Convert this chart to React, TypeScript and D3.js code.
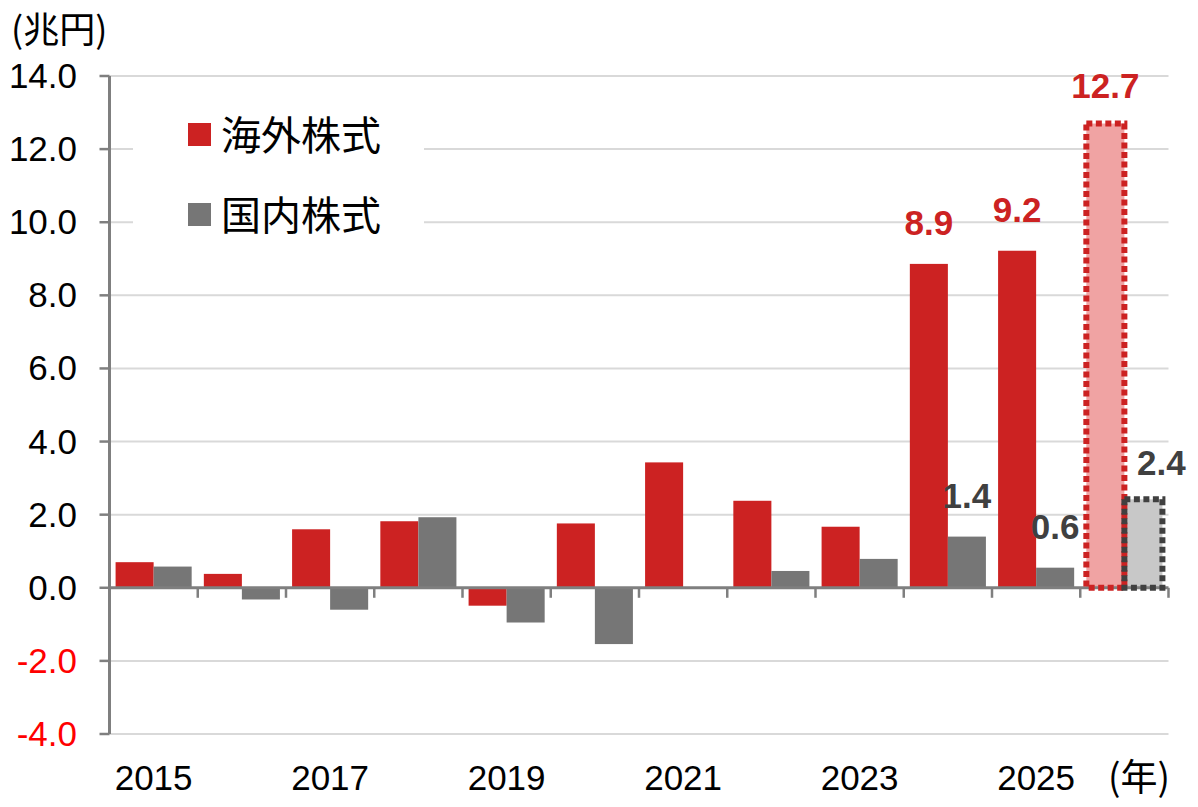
import React from 'react';
import * as d3 from 'd3';

const years = ['2015', '2016', '2017', '2018', '2019', '2020', '2021', '2022', '2023', '2024', '2025', '2026'];
const foreign = [0.7, 0.38, 1.6, 1.82, -0.49, 1.76, 3.43, 2.38, 1.67, 8.86, 9.22, 12.7];
const domestic = [0.58, -0.32, -0.6, 1.93, -0.95, -1.54, 0.0, 0.46, 0.79, 1.4, 0.55, 2.42];
const projected = [false, false, false, false, false, false, false, false, false, false, false, true];
const labelled = ['2024', '2025', '2026'];
const shownYears = ['2015', '2017', '2019', '2021', '2023', '2025'];
const yTicks = [-4, -2, 0, 2, 4, 6, 8, 10, 12, 14];
const seriesNames = ['海外株式', '国内株式'];

const RED = '#CC2222';
const GRAY = '#767676';
const RED_LIGHT = '#F0A3A3';
const GRAY_LIGHT = '#C8C8C8';
const DARK = '#404040';
const AXIS = '#7F7F7F';
const GRID = '#D9D9D9';
const NUM_FONT = '"Liberation Sans", Arial, sans-serif';
const JP_FONT = '"Noto Sans CJK JP", sans-serif';

const W = 1198;
const H = 807;
const left = 109.5;
const right = 1168.5;

export default function App() {
  const x = d3.scaleBand<string>().domain(years).range([left, right]).paddingInner(0).paddingOuter(0);
  const inner = d3.scaleBand<string>().domain(['f', 'd']).range([0, x.bandwidth()]).paddingOuter(0.16).paddingInner(0);
  const y = d3.scaleLinear().domain([-4, 14]).range([734, 76]);
  const bw = inner.bandwidth();
  const y0 = y(0);

  const rows = years.map((yr, i) => ({ yr, f: foreign[i], d: domestic[i], proj: projected[i] }));

  return (
    <div style={{ position: 'absolute', left: 0, top: 0 }}>
      <svg width={W} height={H} style={{ display: 'block', background: '#fff' }}>
        {/* gridlines */}
        {yTicks.filter(t => t !== 0).map(t => (
          <line key={'g' + t} x1={left} x2={right} y1={y(t)} y2={y(t)} stroke={GRID} strokeWidth={2} />
        ))}
        {/* legend background breaks gridlines */}
        <rect x={133} y={100} width={291} height={150} fill="#fff" />
        {seriesNames.map((name, i) => (
          <g key={name} transform={`translate(188, ${123 + i * 80})`}>
            <rect width={23} height={23} fill={i === 0 ? RED : GRAY} />
            <text x={33} y={27} fontFamily={JP_FONT} fontSize={40} fill="#000">{name}</text>
          </g>
        ))}

        {/* bars */}
        {rows.map(r => {
          const bx = x(r.yr)!;
          const xf = bx + inner('f')!;
          const xd = bx + inner('d')!;
          return (
            <g key={r.yr}>
              <rect x={xf} y={Math.min(y(r.f), y0)} width={bw} height={Math.abs(y(r.f) - y0)}
                fill={r.proj ? RED_LIGHT : RED} />
              <rect x={xd} y={Math.min(y(r.d), y0)} width={bw} height={Math.abs(y(r.d) - y0)}
                fill={r.proj ? GRAY_LIGHT : GRAY} />
            </g>
          );
        })}

        {/* zero line and axis */}
        <line x1={left} x2={right} y1={y0} y2={y0} stroke={AXIS} strokeWidth={3} />
        {years.map(yr => (
          <line key={'t' + yr} x1={x(yr)! + x.bandwidth()} x2={x(yr)! + x.bandwidth()} y1={y0} y2={y0 + 10} stroke={AXIS} strokeWidth={2.5} />
        ))}
        <line x1={left} x2={left} y1={y(14)} y2={y(-4)} stroke={AXIS} strokeWidth={3} />
        {yTicks.map(t => (
          <g key={'y' + t}>
            <line x1={left - 10} x2={left} y1={y(t)} y2={y(t)} stroke={AXIS} strokeWidth={2.5} />
            <text x={77} y={y(t) + 12} textAnchor="end" fontFamily={NUM_FONT} fontSize={35}
              fill={t < 0 ? '#FF0000' : '#000'}>{t.toFixed(1)}</text>
          </g>
        ))}

        {/* projected dashed outlines */}
        {rows.filter(r => r.proj).map(r => {
          const bx = x(r.yr)!;
          return (
            <g key={'p' + r.yr}>
              <rect x={bx + inner('f')!} y={y(r.f)} width={bw} height={y0 - y(r.f)} fill="none"
                stroke={RED} strokeWidth={6} strokeDasharray="6,3.5" />
              <rect x={bx + inner('d')!} y={y(r.d)} width={bw} height={y0 - y(r.d)} fill="none"
                stroke={DARK} strokeWidth={6} strokeDasharray="6,3.5" />
            </g>
          );
        })}

        {/* value labels */}
        {rows.filter(r => labelled.includes(r.yr)).map(r => {
          const bx = x(r.yr)!;
          const cf = bx + inner('f')! + bw / 2;
          const cd = bx + inner('d')! + bw / 2 + (r.proj ? 18 : 0);
          return (
            <g key={'l' + r.yr} fontFamily={NUM_FONT} fontSize={35} fontWeight="bold" textAnchor="middle">
              <text x={cf} y={y(r.f) - (r.proj ? 26 : 29)} fill={RED}>{r.f.toFixed(1)}</text>
              <text x={cd} y={y(r.d) - (r.proj ? 24 : 29)} fill={DARK}>{r.d.toFixed(1)}</text>
            </g>
          );
        })}

        {/* x labels */}
        {shownYears.map(yr => (
          <text key={'x' + yr} x={x(yr)! + x.bandwidth() / 2} y={790} textAnchor="middle"
            fontFamily={NUM_FONT} fontSize={35} fill="#000">{yr}</text>
        ))}
        <text x={1108} y={791} fontFamily={JP_FONT} fontSize={37} fill="#000">(年)</text>
        <text x={11} y={43} fontFamily={JP_FONT} fontSize={36} fill="#000">(兆円)</text>
      </svg>
    </div>
  );
}
